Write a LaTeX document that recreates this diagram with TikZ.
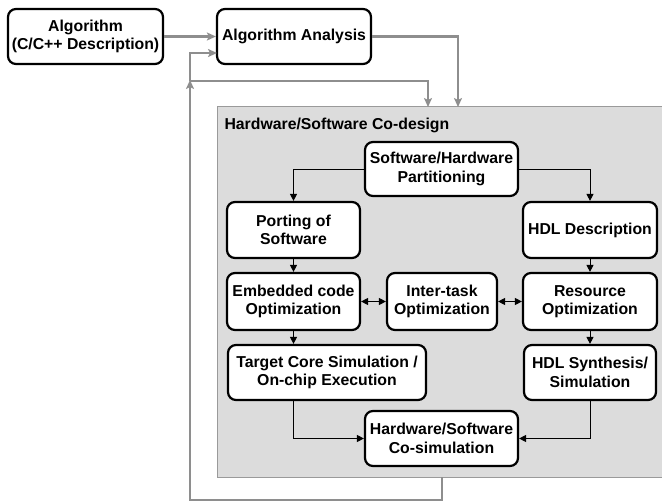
\documentclass[tikz,border=0pt]{standalone}
\usepackage{fontspec}
\setmainfont{Liberation Sans}
\usetikzlibrary{arrows.meta}
\definecolor{loopgray}{HTML}{8E8E8E}
\definecolor{panelfill}{HTML}{DCDCDC}
\definecolor{panelline}{HTML}{9A9A9A}
\definecolor{wiregray}{HTML}{505050}
\tikzset{
  blockbox/.style={draw=black, line width=2.2pt, rounded corners=8pt, fill=white,
    align=center, inner sep=2pt,
    font=\fontsize{15.8}{18.5}\selectfont\bfseries},
  panel/.style={draw=panelline, line width=1pt, fill=panelfill},
  loopline/.style={draw=loopgray, line width=2.6pt,
    -{Stealth[length=9pt,width=8pt,inset=2pt]}, color=loopgray},
  wire/.style={draw=wiregray, line width=1pt,
    -{Triangle[length=7pt,width=7pt]}, color=black},
  biwire/.style={draw=wiregray, line width=1pt,
    {Triangle[length=7pt,width=7pt]}-{Triangle[length=7pt,width=7pt]}, color=black}
}
\begin{document}
\begin{tikzpicture}[x=1pt,y=-1pt]
\useasboundingbox (0,0) rectangle (662,503);

% co-design panel (runs past the right edge)
\node[panel, minimum width=480pt, minimum height=370pt, inner sep=0pt] (cd) at (457,292) {};
\node[anchor=west, font=\fontsize{15.8}{18.5}\selectfont\bfseries] (cdtitle) at (221,125) {Hardware/Software Co-design};

% top row
\node[blockbox, minimum width=155pt, minimum height=55pt] (alg) at (85.5,36.5) {Algorithm\\(C/C++ Description)};
\node[blockbox, minimum width=154pt, minimum height=55pt] (ana) at (294,36.5) {Algorithm Analysis};

% inside the panel
\node[blockbox, minimum width=153pt, minimum height=54pt] (part) at (441.5,169) {Software/Hardware\\Partitioning};
\node[blockbox, minimum width=133pt, minimum height=56pt] (port) at (293.5,230) {Porting of\\Software};
\node[blockbox, minimum width=134pt, minimum height=56pt] (hdl) at (590,230) {HDL Description};
\node[blockbox, minimum width=133pt, minimum height=57pt] (emb) at (293.5,301.5) {Embedded code\\Optimization};
\node[blockbox, minimum width=110pt, minimum height=57pt] (inter) at (442,301.5) {Inter-task\\Optimization};
\node[blockbox, minimum width=134pt, minimum height=57pt] (res) at (590,301.5) {Resource\\Optimization};
\node[blockbox, minimum width=198pt, minimum height=55pt] (tgt) at (327,372.5) {Target Core Simulation /\\On-chip Execution};
\node[blockbox, minimum width=132pt, minimum height=55pt] (syn) at (590,372.5) {HDL Synthesis/\\Simulation};
\node[blockbox, minimum width=153pt, minimum height=55pt] (cosim) at (441.5,438.5) {Hardware/Software\\Co-simulation};

% outer flow points
\coordinate (in1) at (458,107);
\coordinate (in2) at (428,107);
\coordinate (out) at (442,477);
\coordinate (fb) at (190,500);
\coordinate (jn) at (190,81);
\coordinate (anain) at (217,53);

\draw[loopline] (alg) -- (ana);
\draw[loopline] (ana.east) -| (in1);
\draw[loopline] (out) |- (fb) -- ([yshift=1pt]jn);
\draw[loopline] (jn) |- (anain);
\draw[loopline] (jn) -| (in2);

% inner flow
\draw[wire] (part.west) -| (port.north);
\draw[wire] (part.east) -| (hdl.north);
\draw[wire] (port) -- (emb);
\draw[wire] (hdl) -- (res);
\draw[wire] (emb.south) -- (emb.south |- tgt.north);
\draw[wire] (res) -- (syn);
\draw[biwire] (emb) -- (inter);
\draw[biwire] (inter) -- (res);
\draw[wire] (emb.south |- tgt.south) |- (cosim.west);
\draw[wire] (syn.south) |- (cosim.east);
\end{tikzpicture}
\end{document}
